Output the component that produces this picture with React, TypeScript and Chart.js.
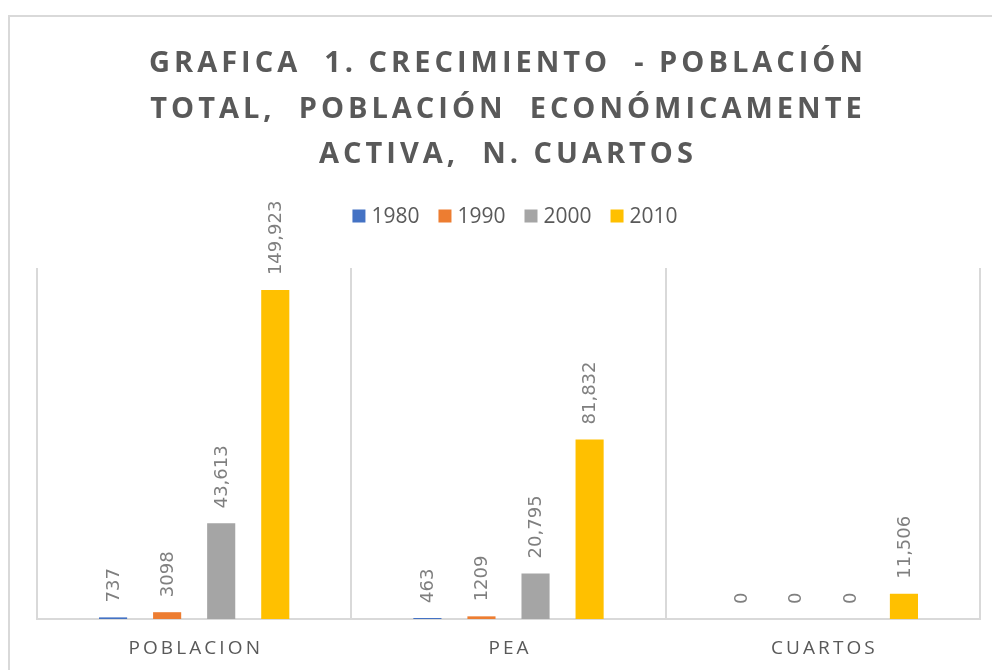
import React, { useEffect, useRef } from "react";
import { Chart, registerables } from "chart.js";

Chart.register(...registerables);

const titleLines = [
  "GRAFICA  1. CRECIMIENTO  - POBLACIÓN",
  "TOTAL,  POBLACIÓN  ECONÓMICAMENTE",
  "ACTIVA,  N. CUARTOS",
];
const categories = ["POBLACION", "PEA", "CUARTOS"];
const seriesLabels = ["1980", "1990", "2000", "2010"];
const values1980 = [737, 463, 0];
const values1990 = [3098, 1209, 0];
const values2000 = [43613, 20795, 0];
const values2010 = [149923, 81832, 11506];
const seriesColors = ["#4472C4", "#ED7D31", "#A5A5A5", "#FFC000"];
const yMax = 160000;

function formatLabel(v: number): string {
  return v >= 10000 ? v.toLocaleString("en-US") : String(v);
}

const decorPlugin = {
  id: "decor",
  afterDraw(chart: any) {
    const ctx = chart.ctx as CanvasRenderingContext2D;
    const W = chart.width;
    const H = chart.height;
    ctx.save();

    // outer frame (left and top edges visible)
    ctx.strokeStyle = "#d9d9d9";
    ctx.lineWidth = 2;
    ctx.beginPath();
    ctx.moveTo(1, H);
    ctx.lineTo(1, 8);
    ctx.lineTo(W, 8);
    ctx.stroke();

    // title
    ctx.fillStyle = "#595959";
    ctx.font = "bold 29px 'Open Sans'";
    (ctx as any).letterSpacing = "4px";
    ctx.textAlign = "center";
    ctx.textBaseline = "middle";
    titleLines.forEach((line, i) => {
      ctx.fillText(line, W / 2 + 4, 56 + i * 45.5);
    });

    // legend
    ctx.font = "21px 'Open Sans'";
    (ctx as any).letterSpacing = "0px";
    ctx.textAlign = "left";
    const box = 13;
    const gapText = 6;
    const gapItem = 19;
    const items = chart.data.datasets.map((ds: any) => ({
      label: ds.label,
      color: ds.backgroundColor,
      w: ctx.measureText(ds.label).width,
    }));
    const total =
      items.reduce((s: number, it: any) => s + box + gapText + it.w, 0) +
      gapItem * (items.length - 1);
    let lx = 507 - total / 2;
    const ly = 208;
    items.forEach((it: any) => {
      ctx.fillStyle = it.color;
      ctx.fillRect(lx, ly - box / 2, box, box);
      ctx.fillStyle = "#595959";
      ctx.fillText(it.label, lx + box + gapText, ly + 1);
      lx += box + gapText + it.w + gapItem;
    });

    // category labels
    const xScale = chart.scales.x;
    ctx.font = "19px 'Open Sans'";
    const sp = 3.1;
    (ctx as any).letterSpacing = sp + "px";
    ctx.textAlign = "center";
    ctx.fillStyle = "#595959";
    categories.forEach((c, i) => {
      ctx.fillText(c, xScale.getPixelForValue(i) + sp / 2, 641);
    });

    // data labels
    (ctx as any).letterSpacing = "0px";
    ctx.font = "18px 'DejaVu Sans'";
    ctx.fillStyle = "#7f7f7f";
    ctx.textAlign = "left";
    ctx.textBaseline = "middle";
    chart.data.datasets.forEach((ds: any, di: number) => {
      const meta = chart.getDatasetMeta(di);
      meta.data.forEach((el: any, i: number) => {
        const v = ds.data[i];
        ctx.save();
        ctx.translate(el.x, el.y - 15);
        ctx.rotate(-Math.PI / 2);
        ctx.fillText(formatLabel(v), 0, 1);
        ctx.restore();
      });
    });

    ctx.restore();
  },
};

export default function App() {
  const ref = useRef<HTMLCanvasElement | null>(null);

  useEffect(() => {
    if (!ref.current) return;
    const seriesValues = [values1980, values1990, values2000, values2010];
    const chart = new Chart(ref.current, {
      type: "bar",
      data: {
        labels: categories,
        datasets: seriesLabels.map((l, i) => ({
          label: l,
          data: seriesValues[i],
          backgroundColor: seriesColors[i],
          borderWidth: 0,
          categoryPercentage: 0.688,
          barPercentage: 0.52,
        })),
      },
      options: {
        animation: false,
        responsive: false,
        devicePixelRatio: 1,
        layout: { padding: { top: 260, left: 29, right: 20, bottom: 51 } },
        plugins: {
          legend: { display: false },
          title: { display: false },
          tooltip: { enabled: false },
        },
        scales: {
          x: {
            offset: true,
            grid: {
              display: true,
              offset: true,
              color: "#d9d9d9",
              lineWidth: 2,
              drawTicks: false,
            },
            border: { display: true, color: "#d9d9d9", width: 2 },
            ticks: { display: false },
          },
          y: { display: false, min: 0, max: yMax },
        },
      },
      plugins: [decorPlugin],
    });
    return () => chart.destroy();
  }, []);

  return (
    <div style={{ width: 992, height: 662 }}>
      <canvas ref={ref} width={992} height={662} style={{ display: "block" }} />
    </div>
  );
}
